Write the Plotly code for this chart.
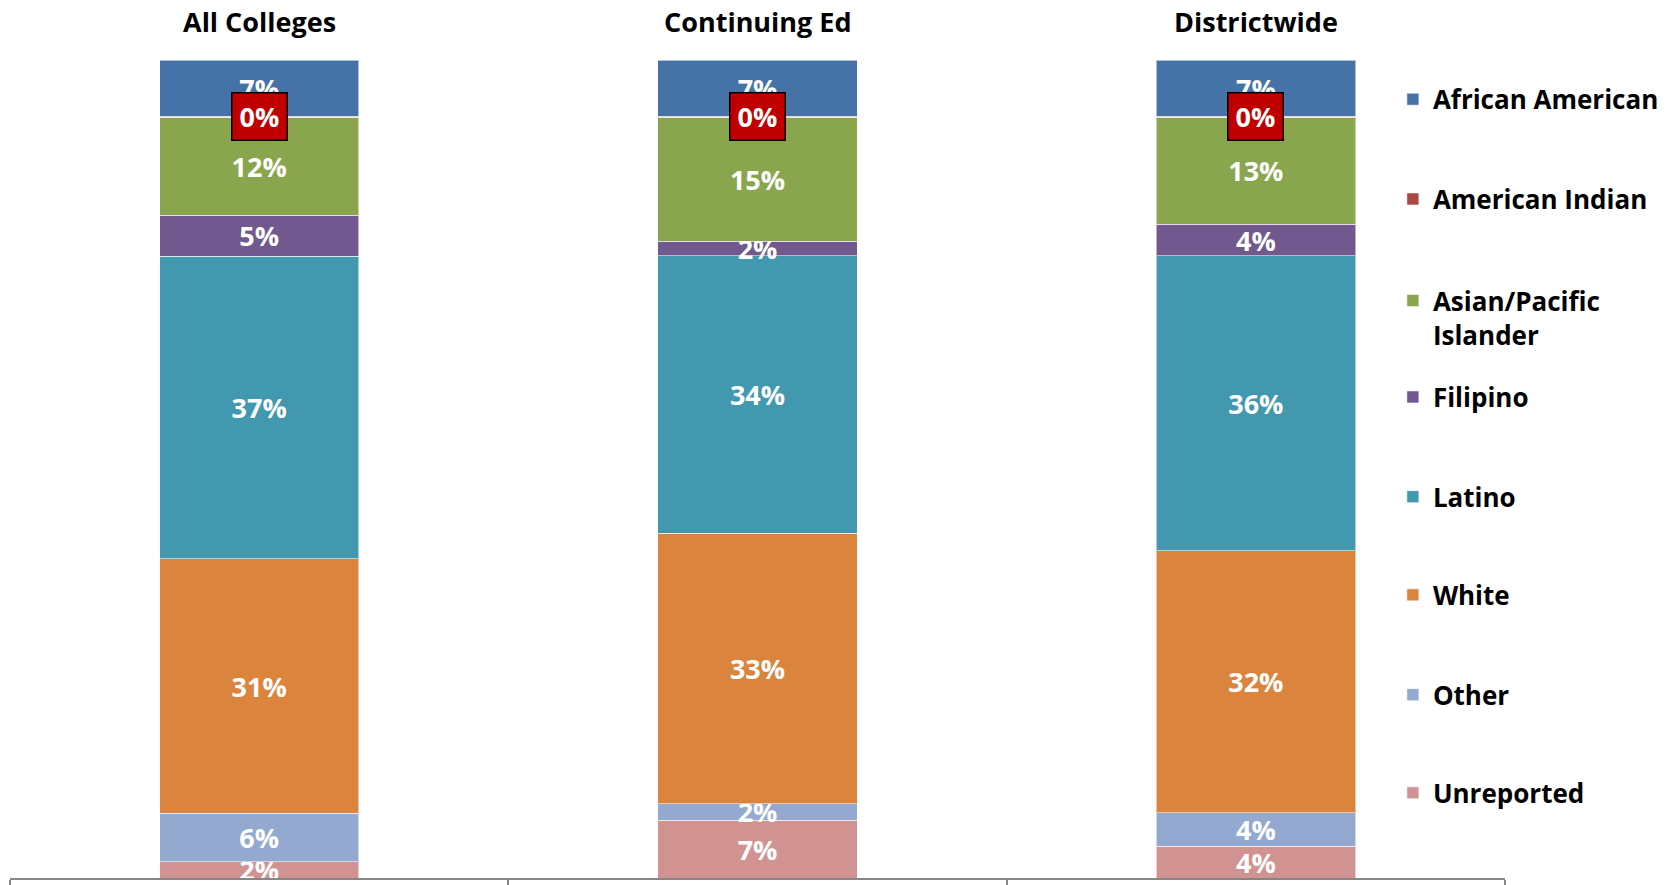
import plotly.graph_objects as go

categories = ["All Colleges", "Continuing Ed", "Districtwide"]

series_names = ["African American", "American Indian", "Asian/Pacific Islander", "Filipino",
                "Latino", "White", "Other", "Unreported"]
legend_labels = ["African American", "American Indian", "Asian/Pacific<br>Islander", "Filipino",
                 "Latino", "White", "Other", "Unreported"]

african_american = [6.9, 6.9, 6.9]
american_indian = [0.1, 0.1, 0.1]
asian_pacific = [12.0, 15.2, 13.1]
filipino = [5.0, 1.8, 3.9]
latino = [37.0, 34.0, 36.1]
white = [31.1, 33.2, 32.1]
other = [5.9, 2.0, 4.1]
unreported = [2.0, 7.1, 3.9]

colors = ["#4572A7", "#AA4643", "#89A54E", "#71588F", "#4198AF", "#DB843D", "#93A9CF", "#D19392"]

# stacking order bottom -> top
stack = [
    ("Unreported", unreported),
    ("Other", other),
    ("White", white),
    ("Latino", latino),
    ("Filipino", filipino),
    ("Asian/Pacific Islander", asian_pacific),
    ("American Indian", american_indian),
    ("African American", african_american),
]

# legend slot centres (fraction of plot height), top -> bottom
legend_y = [0.952, 0.830, 0.685, 0.588, 0.466, 0.346, 0.224, 0.104]

FONT = "Open Sans"
fig = go.Figure()

for name, vals in stack:
    idx = series_names.index(name)
    txt = [f"{v:.0f}%" for v in vals] if name != "American Indian" else None
    lg = "legend" if idx == 0 else f"legend{idx + 1}"
    fig.add_trace(go.Bar(
        x=categories, y=vals, name=legend_labels[idx],
        marker=dict(color=colors[idx], line=dict(color="rgba(255,255,255,0.55)", width=1)),
        text=txt, textposition="inside", insidetextanchor="middle",
        textangle=0, constraintext="none",
        textfont=dict(family=FONT, size=27, color="white", weight="bold"),
        legend=lg, hoverinfo="skip",
    ))

# red call-out boxes for the American Indian 0% labels
for i, cat in enumerate(categories):
    tot = sum(s[1][i] for s in stack)
    boundary = (tot - african_american[i]) / tot * 100
    fig.add_annotation(
        x=cat, y=boundary, xref="x", yref="y",
        text=f"{american_indian[i]:.0f}%", showarrow=False,
        font=dict(family=FONT, size=27, color="white", weight="bold"),
        bgcolor="#C00000", bordercolor="black", borderwidth=1.5, borderpad=4,
        width=46, height=38,
        xanchor="center", yanchor="middle",
    )

# category titles at top
for cat in categories:
    fig.add_annotation(
        x=cat, y=1, xref="x", yref="paper", text=cat, showarrow=False,
        font=dict(family=FONT, size=27, color="black", weight="bold"),
        xanchor="center", yanchor="middle", yshift=39,
    )

layout_legends = {}
for idx, lbl in enumerate(legend_labels):
    key = "legend" if idx == 0 else f"legend{idx + 1}"
    layout_legends[key] = dict(
        x=0.925, y=legend_y[idx], xanchor="left", yanchor="middle",
        font=dict(family=FONT, size=26, color="black", weight="bold"),
        bgcolor="rgba(0,0,0,0)", valign="top",
    )

fig.update_layout(
    barmode="stack", barnorm="percent", bargap=0.6,
    width=1671, height=877,
    margin=dict(l=2, r=174, t=52, b=5),
    plot_bgcolor="white", paper_bgcolor="white",
    showlegend=True,
    xaxis=dict(showline=True, linecolor="#868686", linewidth=1.5,
               ticks="outside", tickson="boundaries", ticklen=5, tickcolor="#868686",
               tickwidth=1.5, showticklabels=False, showgrid=False, zeroline=False,
               fixedrange=True),
    yaxis=dict(visible=False, range=[0, 100], showgrid=False, zeroline=False),
    **layout_legends,
)

fig.write_html("out.html")
